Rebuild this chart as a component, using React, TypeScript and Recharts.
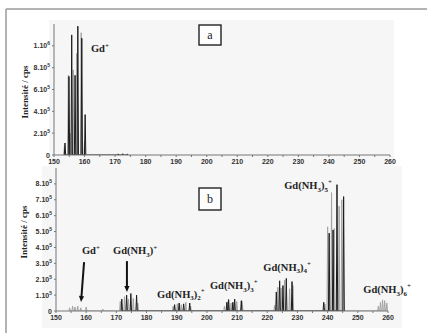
import React from "react";
import { LineChart, Line, XAxis, YAxis, ReferenceDot, ReferenceLine } from "recharts";

// spectre a : Gd+ seul  [m/z, intensité]
const blackA = [
  [153.6, 110000], [154.9, 720000], [155.8, 1100000], [156.9, 730000],
  [157.8, 1180000], [159.1, 1070000], [160.2, 370000],
  [171, 10000], [172.5, 12000], [174, 10000],
];
const grayA = [
  [153.4, 80000], [154.7, 730000], [155.3, 200000], [156.3, 780000],
  [157.4, 930000], [158.9, 1120000], [160.0, 120000],
];

// spectre b : Gd(NH3)n+
const blackB = [
  [171.8, 75000], [173.4, 100000], [174.8, 110000], [176.7, 100000],
  [189.3, 40000], [190.8, 50000], [192.3, 45000], [194.3, 50000],
  [206.6, 55000], [207.2, 72000], [208.6, 55000], [209.2, 75000], [211.4, 65000],
  [223.0, 120000], [224.1, 190000], [225.2, 160000], [226.3, 205000], [228.2, 185000],
  [238.7, 55000], [240.5, 490000], [241.8, 510000], [243.1, 795000], [245.3, 720000],
];
const grayB = [
  [154.5, 20000], [155.5, 30000], [156.3, 25000], [157.2, 30000], [158.2, 20000],
  [160.0, 25000], [165.5, 12000],
  [171.3, 60000], [172.7, 90000], [174.0, 75000], [175.6, 80000], [177.1, 50000],
  [188.8, 30000], [190.2, 45000], [191.5, 40000], [193.0, 55000], [194.6, 30000],
  [205.8, 30000], [207.0, 60000], [208.0, 50000], [209.9, 60000], [211.7, 60000],
  [222.4, 35000], [223.5, 150000], [224.6, 145000], [225.7, 195000], [227.4, 140000], [228.5, 160000],
  [239.1, 45000], [240.0, 530000], [241.3, 745000], [242.2, 520000], [243.8, 660000], [244.7, 700000],
  [256.8, 30000], [257.5, 55000], [258.2, 70000], [258.9, 65000], [259.6, 50000],
];

const xTicks = [150, 155, 160, 165, 170, 175, 180, 185, 190, 195, 200, 205, 210, 215, 220, 225, 230, 235, 240, 245, 250, 255, 260];
const yTicksA = [0, 200000, 400000, 600000, 800000, 1000000];
const yTicksB = [0, 100000, 200000, 300000, 400000, 500000, 600000, 700000, 800000];

// étiquettes du spectre b : nombre de NH3, position (m/z, intensité)
const nh3 = [0, 1, 2, 3, 4, 5, 6];
const labelMz = [158.6, 168.9, 183.5, 201.0, 218.7, 225.6, 251.8];
const labelInt = [358000, 358000, 82000, 138000, 252000, 767000, 113000];

const SERIF = "'Liberation Serif', 'DejaVu Serif', serif";
const SANS = "'Liberation Sans', Arial, sans-serif";

// chaque pic = un triangle étroit posé sur la ligne de base
function spectrum(peaks: number[][]) {
  const hw = 0.22;
  const pts: { m: number; v: number }[] = [];
  peaks.forEach(([m, v]) => {
    pts.push({ m: m - hw, v: 0 }, { m, v }, { m: m + hw, v: 0 });
  });
  return pts.sort((a, b) => a.m - b.m);
}

function XTick(props: any) {
  const { x, y, payload } = props;
  if (payload.value % 10 !== 0) return null;
  return (
    <text x={x} y={y + 5} textAnchor="middle" fontFamily={SANS} fontSize={7} fontWeight="bold" fill="#333">
      {payload.value}
    </text>
  );
}

function YTick(props: any) {
  const { x, y, payload } = props;
  const v = payload.value;
  if (v === 0) {
    return (
      <text x={x} y={y + 2.5} textAnchor="end" fontFamily={SANS} fontSize={7} fontWeight="bold" fill="#333">0</text>
    );
  }
  const exp = Math.floor(Math.log10(v) + 1e-9);
  const mant = Math.round(v / Math.pow(10, exp));
  return (
    <text x={x} y={y + 2.5} textAnchor="end" fontFamily={SANS} fontSize={7} fontWeight="bold" fill="#333">
      {mant}.10<tspan dy={-3} fontSize={5}>{exp}</tspan>
    </text>
  );
}

function Formula({ cx, cy, n }: { cx: number; cy: number; n: number }) {
  if (n === 0) {
    return (
      <text x={cx} y={cy} fontFamily={SERIF} fontSize={10.5} fontWeight="bold" fill="#222">
        Gd<tspan dy={-4} fontSize={7}>+</tspan>
      </text>
    );
  }
  return (
    <text x={cx} y={cy} fontFamily={SERIF} fontSize={10.5} fontWeight="bold" fill="#222">
      Gd(NH<tspan dy={2.5} fontSize={7}>3</tspan>
      <tspan dy={-2.5}>)</tspan>
      {n > 1 ? <tspan dy={2.5} fontSize={7}>{n}</tspan> : null}
      <tspan dy={n > 1 ? -7.5 : -4} fontSize={7}>+</tspan>
    </text>
  );
}

function Arrow(props: any) {
  const { x1, y1, x2, y2 } = props;
  const top = y1 < y2 ? { x: x1, y: y1 } : { x: x2, y: y2 };
  const bot = y1 < y2 ? { x: x2, y: y2 } : { x: x1, y: y1 };
  const ang = Math.atan2(bot.y - top.y, bot.x - top.x);
  const L = 6, W = 2.6;
  const bx = bot.x - L * Math.cos(ang), by = bot.y - L * Math.sin(ang);
  const px = -Math.sin(ang) * W, py = Math.cos(ang) * W;
  return (
    <g>
      <line x1={top.x} y1={top.y} x2={bx} y2={by} stroke="#111" strokeWidth={2} />
      <polygon points={`${bot.x},${bot.y} ${bx + px},${by + py} ${bx - px},${by - py}`} fill="#111" />
    </g>
  );
}

const axisProps = {
  axisLine: { stroke: "#777" },
  tickLine: { stroke: "#777" },
  tickSize: 2,
};

export default function App() {
  return (
    <div style={{ position: "absolute", left: 0, top: 0, width: 427, height: 333, background: "#fff", overflow: "hidden" }}>
      <div style={{ position: "absolute", left: 49, top: 20, width: 345, height: 147, background: "#f6f6f6" }} />
      <div style={{ position: "absolute", left: 42, top: 166, width: 360, height: 162, background: "#f6f6f6" }} />

      <div style={{ position: "absolute", left: 0, top: 0 }}>
        <LineChart width={427} height={175} margin={{ top: 24, right: 37, bottom: 0, left: 24 }}>
          <XAxis dataKey="m" type="number" domain={[150, 260]} ticks={xTicks} tick={<XTick />} height={20} interval={0} allowDataOverflow {...axisProps} />
          <YAxis type="number" domain={[0, 1200000]} ticks={yTicksA} tick={<YTick />} width={30} interval={0} allowDataOverflow {...axisProps} />
          <Line data={spectrum(grayA)} dataKey="v" type="linear" stroke="#a3a3a3" strokeWidth={1} dot={false} isAnimationActive={false} />
          <Line data={spectrum(blackA)} dataKey="v" type="linear" stroke="#1c1c1c" strokeWidth={1} dot={false} isAnimationActive={false} />
          <ReferenceDot x={162.1} y={945000} r={0} ifOverflow="visible" shape={(p: any) => <Formula cx={p.cx} cy={p.cy} n={0} />} />
        </LineChart>
      </div>

      <div style={{ position: "absolute", left: 0, top: 160 }}>
        <LineChart width={427} height={173} margin={{ top: 8, right: 39, bottom: 2, left: 26 }}>
          <XAxis dataKey="m" type="number" domain={[150, 260]} ticks={xTicks} tick={<XTick />} height={20} interval={0} allowDataOverflow {...axisProps} />
          <YAxis type="number" domain={[0, 900000]} ticks={yTicksB} tick={<YTick />} width={30} interval={0} allowDataOverflow {...axisProps} />
          <Line data={spectrum(grayB)} dataKey="v" type="linear" stroke="#a3a3a3" strokeWidth={1} dot={false} isAnimationActive={false} />
          <Line data={spectrum(blackB)} dataKey="v" type="linear" stroke="#1c1c1c" strokeWidth={1} dot={false} isAnimationActive={false} />
          {nh3.map((n, i) => (
            <ReferenceDot key={n} x={labelMz[i]} y={labelInt[i]} r={0} ifOverflow="visible" shape={(p: any) => <Formula cx={p.cx} cy={p.cy} n={n} />} />
          ))}
          <ReferenceLine segment={[{ x: 159.3, y: 308000 }, { x: 158.3, y: 57000 }]} ifOverflow="visible" shape={<Arrow />} />
          <ReferenceLine segment={[{ x: 173.5, y: 314000 }, { x: 173.5, y: 119000 }]} ifOverflow="visible" shape={<Arrow />} />
        </LineChart>
      </div>

      <svg width={427} height={333} style={{ position: "absolute", left: 0, top: 0, pointerEvents: "none" }}>
        <line x1={6} y1={9} x2={427} y2={9} stroke="#9a9a9a" strokeWidth={1.5} />
        <line x1={6} y1={9} x2={6} y2={333} stroke="#9a9a9a" strokeWidth={1.5} />
        <rect x={199} y={25} width={22} height={20} fill="#fdfdfd" stroke="#222" strokeWidth={1.4} />
        <text x={210} y={39} textAnchor="middle" fontFamily={SERIF} fontSize={12} fill="#222">a</text>
        <rect x={199} y={188} width={22} height={22} fill="#fdfdfd" stroke="#222" strokeWidth={1.4} />
        <text x={210} y={203} textAnchor="middle" fontFamily={SERIF} fontSize={12} fill="#222">b</text>
        <text x={25} y={92} transform="rotate(-90 25 92)" textAnchor="middle" dominantBaseline="central" fontFamily={SERIF} fontSize={9} fontWeight="bold" fill="#222">Intensité / cps</text>
        <text x={24} y={232} transform="rotate(-90 24 232)" textAnchor="middle" dominantBaseline="central" fontFamily={SERIF} fontSize={9} fontWeight="bold" fill="#222">Intensité / cps</text>
      </svg>
    </div>
  );
}
